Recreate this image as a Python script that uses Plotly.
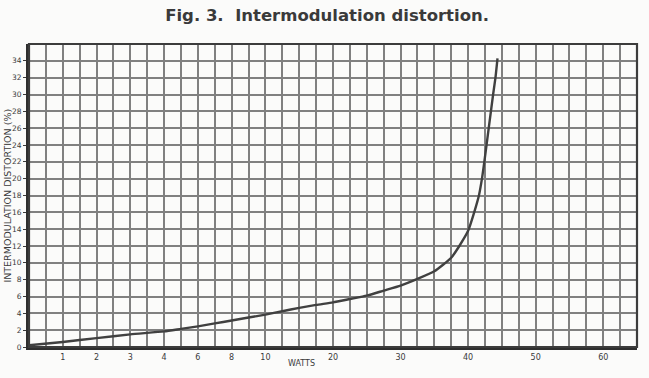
import numpy as np
import plotly.graph_objects as go

# Output power (watts) and intermodulation distortion (%)
watts = [0, 1, 2, 3, 4, 5, 6, 7, 8, 9, 10, 12.5, 15, 17.5, 20, 22.5, 25, 27.5,
         30, 32.5, 35, 37.5, 38.7, 40, 40.9, 41.6, 42.05, 42.4, 43.05, 43.7, 44.05, 44.35]
distortion = [0.2, 0.6, 1.05, 1.5, 1.85, 2.15, 2.45, 2.8, 3.15, 3.5, 3.85, 4.25, 4.65,
              5.0, 5.3, 5.7, 6.1, 6.7, 7.3, 8.1, 9.0, 10.6, 12.0, 13.8, 16.0, 18.0,
              20.0, 22.0, 26.0, 30.0, 32.0, 34.3]

# Watts axis labels and the stretched chart-paper scale (piecewise linear)
x_tick_watts = [1, 2, 3, 4, 6, 8, 10, 20, 30, 40, 50, 60]
scale_watts = [0, 4, 10, 65]
scale_cols = [0, 8, 14, 36]
y_ticks = list(range(0, 35, 2))


def to_col(w):
    return np.interp(w, scale_watts, scale_cols)


INK = "#3a3a3a"
GRID = "#808080"
FONT = "DejaVu Sans"

fig = go.Figure()
fig.add_trace(go.Scatter(
    x=to_col(watts), y=distortion, mode="lines",
    line=dict(color="#404040", width=2.4, shape="spline", smoothing=0.5),
    hoverinfo="skip", showlegend=False,
))

fig.update_layout(
    width=649, height=378,
    margin=dict(l=27, r=12, t=44, b=31),
    paper_bgcolor="#fbfbfa", plot_bgcolor="#fbfbfa",
    title=dict(
        text="Fig. 3.  Intermodulation distortion.",
        x=0.504, xanchor="center", y=1 - 15 / 378, yanchor="middle",
        font=dict(family=FONT, size=16.5, color=INK, weight="bold"),
    ),
    xaxis=dict(
        range=[0, 36], tickvals=to_col(x_tick_watts).tolist(),
        ticktext=[str(v) for v in x_tick_watts],
        tickfont=dict(family=FONT, size=8, color=INK),
        showgrid=True, gridcolor=GRID, gridwidth=1.6,
        minor=dict(dtick=1, tick0=0, showgrid=True, gridcolor=GRID, gridwidth=1.6),
        zeroline=False, showline=True, linecolor="#2e2e2e", linewidth=3,
        ticks="", ticklabelstandoff=0,
    ),
    yaxis=dict(
        range=[0, 36], tickvals=y_ticks, ticktext=[str(v) for v in y_ticks],
        tickfont=dict(family=FONT, size=7.5, color=INK),
        showgrid=True, gridcolor=GRID, gridwidth=1.6,
        minor=dict(dtick=2, tick0=0, showgrid=True, gridcolor=GRID, gridwidth=1.6),
        zeroline=False, showline=True, linecolor="#2e2e2e", linewidth=3,
        ticks="outside", ticklen=3, tickcolor=INK, tickwidth=1,
    ),
    shapes=[
        dict(type="rect", xref="paper", yref="paper", x0=0, y0=0, x1=1, y1=1,
             line=dict(color="#3c3c3c", width=2.2), layer="above"),
    ],
    annotations=[
        dict(text="WATTS", xref="paper", yref="paper", x=0.4475, y=-0.056,
             xanchor="center", yanchor="middle", showarrow=False,
             font=dict(family=FONT, size=8, color=INK)),
        dict(text="INTERMODULATION DISTORTION (%)", xref="paper", yref="paper",
             x=-0.036, y=0.5, xanchor="center", yanchor="middle", textangle=-90,
             showarrow=False, font=dict(family=FONT, size=9.5, color=INK)),
    ],
)

fig.write_html("out.html")
